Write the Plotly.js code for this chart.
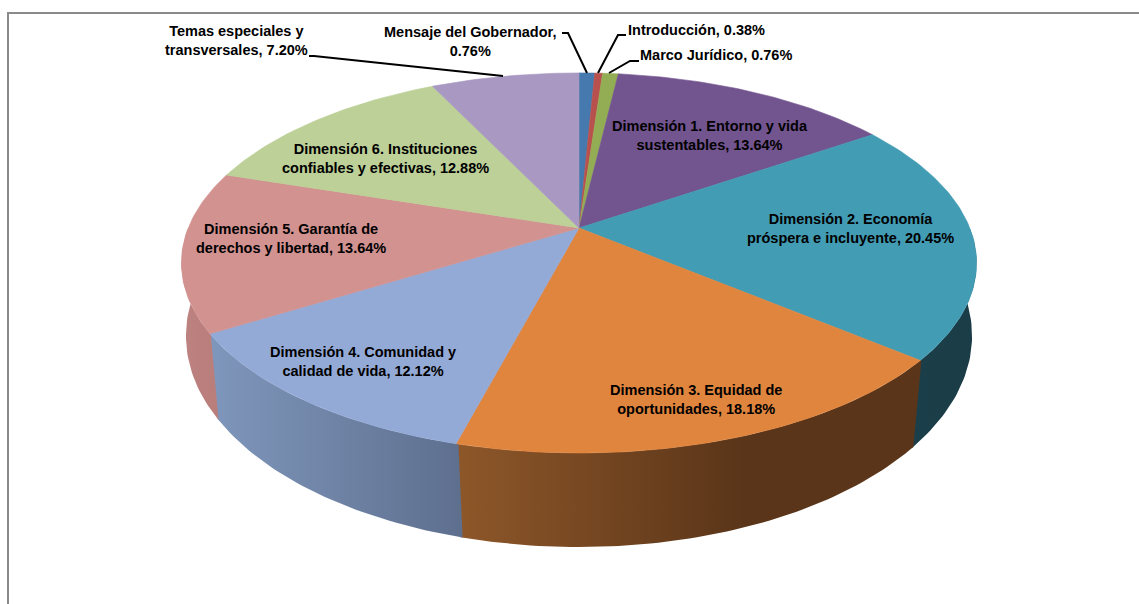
<!DOCTYPE html>
<html><head><meta charset="utf-8">
<script src="https://cdn.plot.ly/plotly-3.0.1.min.js"></script>
<style>html,body{margin:0;padding:0;background:#fff}#c{width:1139px;height:604px}</style>
</head><body><div id="c"></div><script>
const categories=["Mensaje del Gobernador","Introducción","Marco Jurídico","Dimensión 1. Entorno y vida sustentables","Dimensión 2. Economía próspera e incluyente","Dimensión 3. Equidad de oportunidades","Dimensión 4. Comunidad y calidad de vida","Dimensión 5. Garantía de derechos y libertad","Dimensión 6. Instituciones confiables y efectivas","Temas especiales y transversales"];
const values=[0.76,0.38,0.76,13.64,20.45,18.18,12.12,13.64,12.88,7.20];
const topColors=["#4679ad","#b8504d","#93ad54","#72548f","#429cb4","#e0853e","#94aad6","#d29290","#bcd097","#a999c2"];
const wallLeft=["#2f5070","#773432","#5f7036","#4b3860","#1b3f4a","#8e5729","#7f97bc","#bd8380","#7a875f","#6e637e"];
const wallRight=["#2f5070","#773432","#5f7036","#4b3860","#1a3c47","#5a3519","#5e6f8e","#b97d7a","#7a875f","#6e637e"];
const wallMid=[1,1,1,1,1,0.62,1,1,1,1];
const labelLines=[["Mensaje del Gobernador,","0.76%"],["Introducción, 0.38%"],["Marco Jurídico, 0.76%"],["Dimensión 1. Entorno y vida","sustentables, 13.64%"],["Dimensión 2. Economía","próspera e incluyente, 20.45%"],["Dimensión 3. Equidad de","oportunidades, 18.18%"],["Dimensión 4. Comunidad y","calidad de vida, 12.12%"],["Dimensión 5. Garantía de","derechos y libertad, 13.64%"],["Dimensión 6. Instituciones","confiables y efectivas, 12.88%"],["Temas especiales y","transversales, 7.20%"]];
const labelX=[470,696,716,710,850,696,363,291,385,236];
const labelY=[41,30,55,135,228,399,361,238,158,40];
const leaders=[[[562,33],[568,33],[587,73]],[[626,35],[618,35],[598,73]],[[639,61],[630,61],[609,73]],null,null,null,null,null,null,[[309,56],[314,56],[503,76]]];

const top3d={cx:579,cy:228,a:390.8,b:183.6,k:0.184};
const bot3d={cx:579,cy:302,a:388,b:205.8,k:0.16};
function pt(p,deg){const t=deg*Math.PI/180,w=1+p.k*Math.cos(t);return [p.cx+p.a*Math.sin(t)/w,p.cy-p.b*Math.cos(t)/w];}
function arc(p,d0,d1){const out=[];const n=Math.max(2,Math.ceil(Math.abs(d1-d0)));for(let i=0;i<=n;i++)out.push(pt(p,d0+(d1-d0)*i/n));return out;}

const total=values.reduce((a,b)=>a+b,0);
let cum=0;const bounds=values.map(v=>{const s=cum;cum+=v;return [s/total*360,cum/total*360];});
const traces=[];
function poly(pts,color,grad){
  const tr={x:pts.map(q=>q[0]),y:pts.map(q=>q[1]),mode:"lines",fill:"toself",hoverinfo:"skip",showlegend:false,line:{color:grad?"rgba(0,0,0,0)":color,width:grad?0:0.6},fillcolor:color};
  if(grad)tr.fillgradient=grad;
  traces.push(tr);
}
bounds.forEach((b,i)=>{
  const s=Math.max(b[0]-0.3,90),e=Math.min(b[1],270);
  if(e<=s)return;
  const t=arc(top3d,s,e),u=arc(bot3d,e,s);
  const xs=t.concat(u).map(q=>q[0]);
  const scale=wallMid[i]<1?[[0,wallLeft[i]],[wallMid[i],wallRight[i]],[1,wallRight[i]]]:[[0,wallLeft[i]],[1,wallRight[i]]];
  poly(t.concat(u),wallLeft[i],{type:"horizontal",colorscale:scale,start:Math.min(...xs),stop:Math.max(...xs)});
});
bounds.forEach((b,i)=>{
  const c=[top3d.cx,top3d.cy];
  poly([c].concat(arc(top3d,b[0],b[1])).concat([c]),topColors[i]);
});
leaders.forEach(l=>{if(l)traces.push({x:l.map(q=>q[0]),y:l.map(q=>q[1]),mode:"lines",line:{color:"#000",width:2},hoverinfo:"skip",showlegend:false});});

const font={family:"Liberation Sans, Arial, sans-serif",size:14.5,color:"#000"};
const annotations=labelLines.map((l,i)=>({x:labelX[i],y:labelY[i],xref:"x",yref:"y",text:"<b>"+l.join("<br>")+"</b>",showarrow:false,font:font,align:"center",xanchor:"center",yanchor:"middle"}));
const frame=[[8,604,8,13],[7,13,1139,13]];
const shapes=frame.map(f=>({type:"line",xref:"x",yref:"y",x0:f[0],y0:f[1],x1:f[2],y1:f[3],line:{color:"#8a8a8a",width:2}}));
Plotly.newPlot("c",traces,{width:1139,height:604,margin:{l:0,r:0,t:0,b:0},paper_bgcolor:"#fff",plot_bgcolor:"#fff",showlegend:false,
 xaxis:{range:[0,1139],visible:false,fixedrange:true},yaxis:{range:[604,0],visible:false,fixedrange:true},annotations,shapes},{displayModeBar:false,staticPlot:true});
</script></body></html>
